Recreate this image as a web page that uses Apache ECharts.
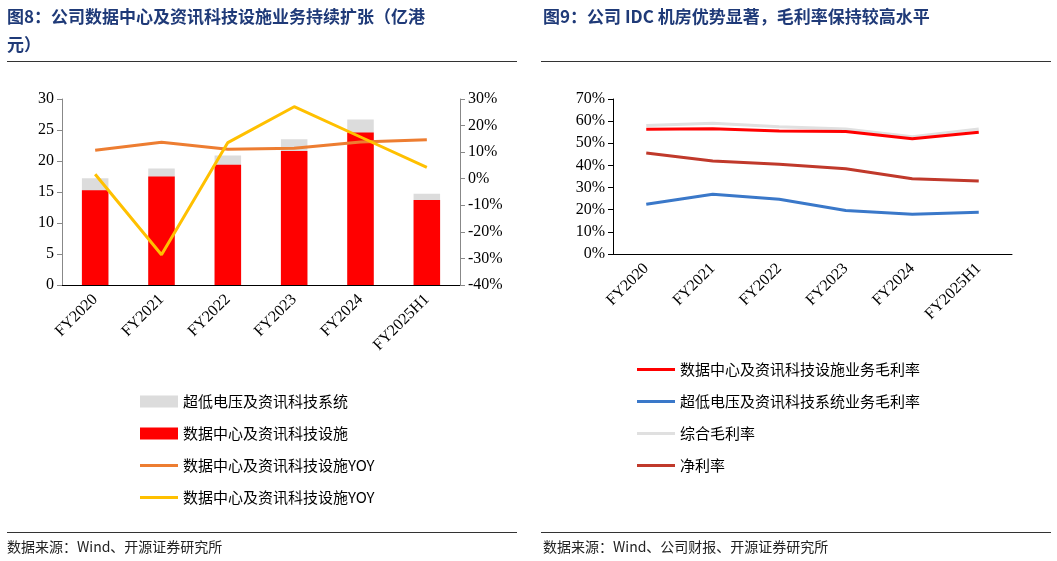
<!DOCTYPE html>
<html><head><meta charset="utf-8">
<script src="https://cdn.jsdelivr.net/npm/echarts@6/dist/echarts.min.js"></script>
<style>html,body{margin:0;padding:0;background:#fff}#c{width:1057px;height:561px}</style>
</head><body><div id="c"></div>
<script>
const categories = ['FY2020','FY2021','FY2022','FY2023','FY2024','FY2025H1'];
const totalRevenue = [17.2, 18.8, 20.9, 23.5, 26.7, 14.7];
const dcRevenue = [15.3, 17.5, 19.4, 21.6, 24.6, 13.7];
const yoyOrange = [10.7, 13.7, 11.1, 11.5, 13.8, 14.7];
const yoyYellow = [1.7, -28.6, 13.6, 27.1, 15.7, 4.3];
const dcMargin = [56.3, 56.6, 55.5, 55.3, 52.0, 55.0];
const ulvMargin = [22.5, 27.0, 24.7, 19.6, 18.0, 18.8];
const totalMargin = [58.0, 59.0, 57.5, 56.5, 53.0, 56.5];
const netMargin = [45.6, 42.0, 40.5, 38.5, 34.0, 33.0];

const serif = 'Liberation Serif, Noto Sans CJK SC';
const axisTxt = {color:'#000', fontFamily:serif, fontSize:16};
const axLine = {show:true, lineStyle:{color:'#888'}};
const lineIcon = 'path://M0,0 L40,0 L40,3 L0,3 Z';
const chart = echarts.init(document.getElementById('c'));
const titleStyle = {fill:'#1f3a78', font:'bold 17px "Noto Sans CJK SC"'};
chart.setOption({
  animation:false,
  graphic:[
    {type:'text', left:7, top:8, style:Object.assign({text:'图8：公司数据中心及资讯科技设施业务持续扩张（亿港'},titleStyle)},
    {type:'text', left:7, top:36, style:Object.assign({text:'元）'},titleStyle)},
    {type:'text', left:543, top:8, style:Object.assign({text:'图9：公司 IDC 机房优势显著，毛利率保持较高水平'},titleStyle)},
    {type:'rect', shape:{x:7,y:61,width:510,height:1}, style:{fill:'#333'}},
    {type:'rect', shape:{x:541,y:61,width:510,height:1}, style:{fill:'#333'}},
    {type:'rect', shape:{x:7,y:532,width:510,height:1}, style:{fill:'#333'}},
    {type:'rect', shape:{x:541,y:532,width:510,height:1}, style:{fill:'#333'}},
    {type:'text', left:7, top:540, style:{text:'数据来源：Wind、开源证券研究所', fill:'#222', font:'14px "Noto Sans CJK SC"'}},
    {type:'text', left:543, top:540, style:{text:'数据来源：Wind、公司财报、开源证券研究所', fill:'#222', font:'14px "Noto Sans CJK SC"'}}
  ],
  legend:[
    {orient:'vertical', left:135, top:386, itemGap:11, itemWidth:38, itemHeight:12,
     textStyle:{fontSize:15, color:'#000', fontFamily:'Noto Sans CJK SC', lineHeight:21},
     data:[{name:'超低电压及资讯科技系统',icon:'rect'},{name:'数据中心及资讯科技设施',icon:'rect'},
           {name:'数据中心及资讯科技设施YOY',icon:lineIcon},{name:'数据中心及资讯科技设施YOY ',icon:lineIcon}]},
    {orient:'vertical', left:632, top:354, itemGap:11, itemWidth:38, itemHeight:12,
     textStyle:{fontSize:15, color:'#000', fontFamily:'Noto Sans CJK SC', lineHeight:21},
     data:[{name:'数据中心及资讯科技设施业务毛利率',icon:lineIcon},{name:'超低电压及资讯科技系统业务毛利率',icon:lineIcon},{name:'综合毛利率',icon:lineIcon},{name:'净利率',icon:lineIcon}]}
  ],
  grid:[
    {left:62, top:99, width:398, height:186},
    {left:613, top:99, width:399, height:155}
  ],
  xAxis:[
    {type:'category', gridIndex:0, data:categories, axisLine:{lineStyle:{color:'#000'}}, axisTick:{lineStyle:{color:'#000'}},
     axisLabel:Object.assign({rotate:45, margin:12},axisTxt)},
    {type:'category', gridIndex:1, data:categories, axisLine:{lineStyle:{color:'#000'}}, axisTick:{lineStyle:{color:'#000'}},
     axisLabel:Object.assign({rotate:45, margin:12},axisTxt)}
  ],
  yAxis:[
    {type:'value', gridIndex:0, min:0, max:30, interval:5, splitLine:{show:false}, axisLine:axLine, axisTick:{show:true,lineStyle:{color:'#888'}}, axisLabel:axisTxt},
    {type:'value', gridIndex:0, min:-40, max:30, interval:10, position:'right', splitLine:{show:false}, axisLine:axLine, axisTick:{show:true,lineStyle:{color:'#888'}}, axisLabel:Object.assign({formatter:'{value}%'},axisTxt)},
    {type:'value', gridIndex:1, min:0, max:70, interval:10, splitLine:{show:false}, axisLine:{show:true,lineStyle:{color:'#000'}}, axisTick:{show:true,lineStyle:{color:'#000'}}, axisLabel:Object.assign({formatter:'{value}%'},axisTxt)}
  ],
  series:[
    {name:'超低电压及资讯科技系统', type:'bar', xAxisIndex:0, yAxisIndex:0, data:totalRevenue, barWidth:'40%', itemStyle:{color:'#dcdcdc'}},
    {name:'数据中心及资讯科技设施', type:'bar', xAxisIndex:0, yAxisIndex:0, data:dcRevenue, barWidth:'40%', barGap:'-100%', itemStyle:{color:'#ff0000'}},
    {name:'数据中心及资讯科技设施YOY', type:'line', xAxisIndex:0, yAxisIndex:1, data:yoyOrange, symbol:'none', lineStyle:{color:'#ed7d31', width:3}, itemStyle:{color:'#ed7d31'}},
    {name:'数据中心及资讯科技设施YOY ', type:'line', xAxisIndex:0, yAxisIndex:1, data:yoyYellow, symbol:'none', lineStyle:{color:'#ffc000', width:3}, itemStyle:{color:'#ffc000'}},
    {name:'综合毛利率', type:'line', xAxisIndex:1, yAxisIndex:2, data:totalMargin, symbol:'none', lineStyle:{color:'#e0e0e0', width:3}, itemStyle:{color:'#e0e0e0'}},
    {name:'数据中心及资讯科技设施业务毛利率', type:'line', xAxisIndex:1, yAxisIndex:2, data:dcMargin, symbol:'none', lineStyle:{color:'#ff0000', width:3}, itemStyle:{color:'#ff0000'}},
    {name:'超低电压及资讯科技系统业务毛利率', type:'line', xAxisIndex:1, yAxisIndex:2, data:ulvMargin, symbol:'none', lineStyle:{color:'#3a78c9', width:3}, itemStyle:{color:'#3a78c9'}},
    {name:'净利率', type:'line', xAxisIndex:1, yAxisIndex:2, data:netMargin, symbol:'none', lineStyle:{color:'#c0392b', width:3}, itemStyle:{color:'#c0392b'}}
  ]
});
</script></body></html>
